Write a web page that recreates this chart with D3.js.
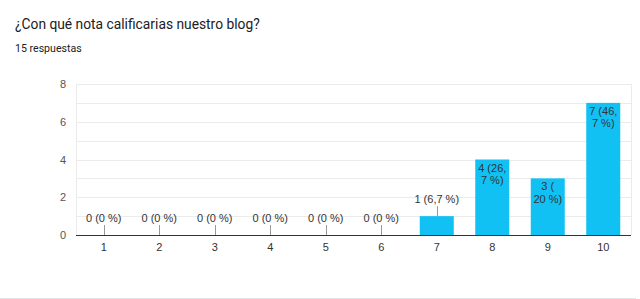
<!DOCTYPE html>
<html><head><meta charset="utf-8">
<script src="https://cdnjs.cloudflare.com/ajax/libs/d3/7.8.5/d3.min.js"></script>
<style>
html,body{margin:0;padding:0;background:#fff;}
svg{display:block;}
</style>
</head><body>
<svg id="c" width="640" height="299"></svg>
<script>
const categories = ["1","2","3","4","5","6","7","8","9","10"];
const values = [0,0,0,0,0,0,1,4,3,7];
const labels = [["0 (0 %)"],["0 (0 %)"],["0 (0 %)"],["0 (0 %)"],["0 (0 %)"],["0 (0 %)"],["1 (6,7 %)"],["4 (26,","7 %)"],["3 (","20 %)"],["7 (46,","7 %)"]];
const yTicks = [0,2,4,6,8];
const gridValues = [1,2,3,4,5,6,7,8];
const title = "¿Con qué nota calificarias nuestro blog?";
const subtitle = "15 respuestas";

const svg = d3.select("#c");
const L = 76, R = 631, T = 84, B = 235;
const x = d3.scaleBand().domain(categories).range([L, R]).padding(0);
const y = d3.scaleLinear().domain([0, 8]).range([B, T]);
const barW = 34;
const font = "Arial, 'Liberation Sans', sans-serif";

// title
svg.append("text").attr("x", 15).attr("y", 29).attr("font-family", "Roboto, sans-serif")
  .attr("font-size", 13.8).attr("fill", "#202124").text(title);
svg.append("text").attr("x", 15).attr("y", 52).attr("font-family", "Roboto, sans-serif")
  .attr("font-size", 10.6).attr("fill", "#202124").text(subtitle);

// gridlines
svg.append("g").selectAll("line").data(gridValues).join("line")
  .attr("x1", L).attr("x2", R)
  .attr("y1", d => Math.round(y(d)) + 0.5).attr("y2", d => Math.round(y(d)) + 0.5)
  .attr("stroke", "#ebebeb").attr("stroke-width", 1);
// borders
svg.append("line").attr("x1", L + 0.5).attr("x2", L + 0.5).attr("y1", T).attr("y2", B).attr("stroke", "#ebebeb");
svg.append("line").attr("x1", R + 0.5).attr("x2", R + 0.5).attr("y1", T).attr("y2", B).attr("stroke", "#ebebeb");

// y axis labels
const yAxis = d3.axisLeft(y).tickValues(yTicks).tickSize(0).tickPadding(0);
const gy = svg.append("g").attr("transform", `translate(${L - 10},0)`).call(yAxis);
gy.select(".domain").remove();
gy.selectAll("text").attr("font-family", font).attr("font-size", 11).attr("fill", "#555");

// bars
svg.append("g").selectAll("rect").data(values).join("rect")
  .attr("x", (d, i) => x(categories[i]) + x.bandwidth() / 2 - barW / 2)
  .attr("width", barW)
  .attr("y", d => y(d))
  .attr("height", d => B - y(d))
  .attr("fill", "#11c1f4");

// x axis
const xAxis = d3.axisBottom(x).tickSize(0).tickPadding(8);
const gx = svg.append("g").attr("transform", `translate(0,${B})`).call(xAxis);
gx.select(".domain").remove();
gx.selectAll("text").attr("font-family", font).attr("font-size", 11).attr("fill", "#333");
svg.append("line").attr("x1", L).attr("x2", R).attr("y1", B + 0.5).attr("y2", B + 0.5).attr("stroke", "#333");

// labels
const lg = svg.append("g").attr("font-family", font).attr("font-size", 11).attr("fill", "#333").attr("text-anchor", "middle");
values.forEach((v, i) => {
  const cx = x(categories[i]) + x.bandwidth() / 2;
  const top = y(v);
  const lines = labels[i];
  if (lines.length === 1) {
    lg.append("line").attr("x1", Math.round(cx) + 0.5).attr("x2", Math.round(cx) + 0.5)
      .attr("y1", top - 10).attr("y2", top).attr("stroke", "#999");
    lg.append("text").attr("x", cx).attr("y", top - 13).text(lines[0]);
  } else {
    lines.forEach((t, k) => {
      lg.append("text").attr("x", cx).attr("y", top + 12 + k * 12.5).text(t);
    });
  }
});

// card bottom border
svg.append("line").attr("x1", 0).attr("x2", 636).attr("y1", 298.5).attr("y2", 298.5).attr("stroke", "#e3e6e6");
</script>
</body></html>
